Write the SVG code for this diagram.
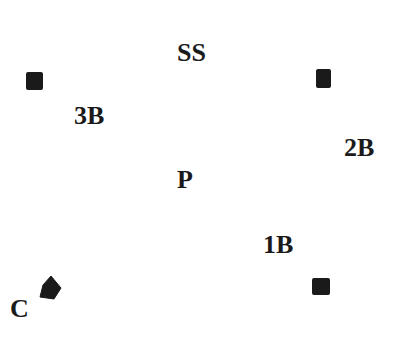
<svg xmlns="http://www.w3.org/2000/svg" width="417" height="339" viewBox="0 0 417 339">
<style>
.lbl{font-family:"Liberation Serif","Times New Roman",serif;font-weight:bold;font-size:26px;fill:#1a1a1a}
.mk{fill:#1a1a1a}
</style>
<rect width="417" height="339" fill="#fff"/>
<g id="node-SS"><text class="lbl" x="177" y="61">SS</text></g>
<g id="node-3B"><rect class="mk" x="26" y="72" width="17" height="18" rx="2"/><text class="lbl" x="74" y="124">3B</text></g>
<g id="node-2B"><rect class="mk" x="316" y="69" width="15" height="19" rx="2"/><text class="lbl" x="344" y="156">2B</text></g>
<g id="node-P"><text class="lbl" x="177" y="188">P</text></g>
<g id="node-1B"><rect class="mk" x="312" y="278" width="18" height="17" rx="2"/><text class="lbl" x="263" y="253">1B</text></g>
<g id="node-C"><path class="mk" d="M51,276 L61,288 L54,299 L40,297 L43,285 Z" stroke="#1a1a1a" stroke-width="1" stroke-linejoin="round"/><text class="lbl" x="10" y="317">C</text></g>
<g id="connectors"></g>
</svg>
